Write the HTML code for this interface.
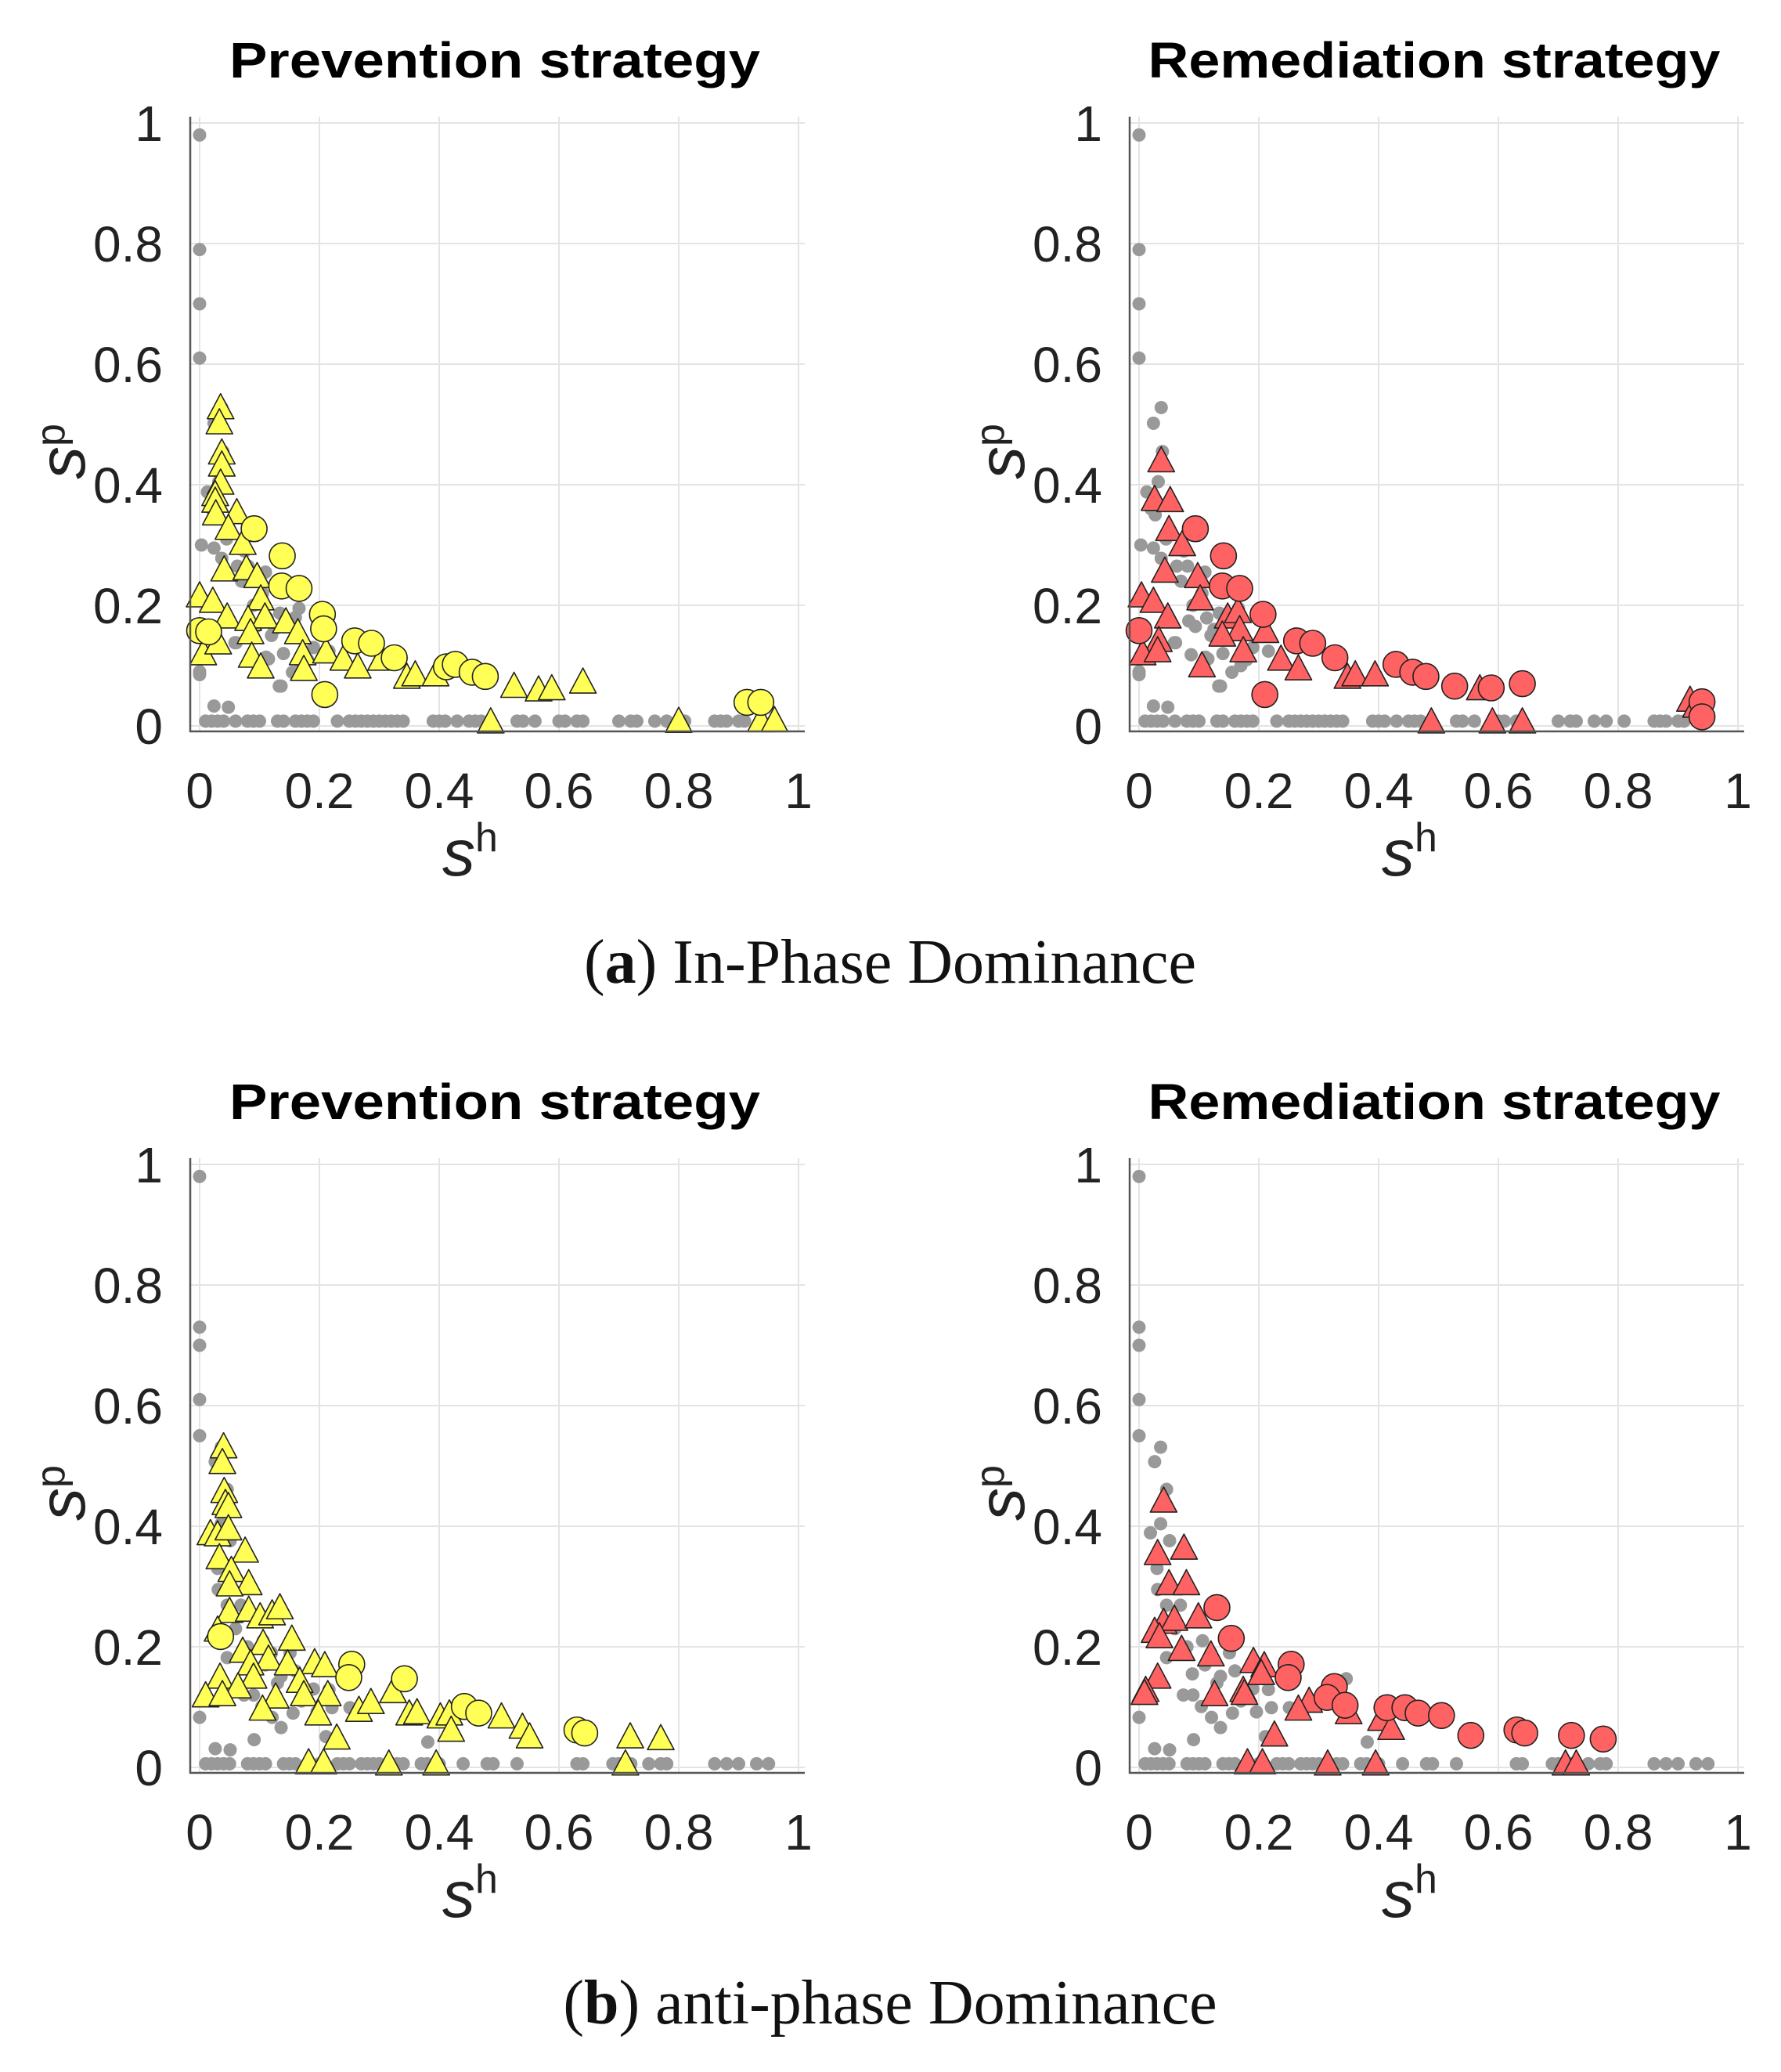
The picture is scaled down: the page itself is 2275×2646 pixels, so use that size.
<!DOCTYPE html>
<html><head><meta charset="utf-8"><style>
html,body{margin:0;padding:0;background:#fff}
svg{display:block}
</style></head><body>
<svg id="fig" xmlns="http://www.w3.org/2000/svg" width="2275" height="2646" viewBox="0 0 2275 2646">
<rect width="2275" height="2646" fill="#fff"/>
<text x="1137" y="1255" text-anchor="middle" font-family="Liberation Serif, serif" font-size="80" fill="#111">(<tspan font-weight="bold">a</tspan>) In-Phase Dominance</text>
<text x="1137" y="2584" text-anchor="middle" font-family="Liberation Serif, serif" font-size="80" fill="#111">(<tspan font-weight="bold">b</tspan>) anti-phase Dominance</text>
</svg>
<script>
// ---- data (x = s^h, y = s^p) ----
const ticks = [0, 0.2, 0.4, 0.6, 0.8, 1];
const tickLabels = ["0", "0.2", "0.4", "0.6", "0.8", "1"];
const titles = ["Prevention strategy", "Remediation strategy"];

const grayTopX = [0,0,0,0,0,0.013,0.024,0.037,0.0,0.024,0.048,0.133,0.059,0.115,0.166,0.11,0.039,0.032,0.027,0.063,0.081,0.083,0.094,0.061,0.087,0.111,0.136,0.155,0.216,0.134,0.113,0.003,
 0.037,0.024,0.02,0.045,0.07,0.09,0.12,0.14,0.17,0.19,0.075,0.105,0.125,0.16,0.18,
 0.01,0.02,0.03,0.04,0.06,0.08,0.09,0.1,0.13,0.14,0.16,0.17,0.18,0.19,0.23,0.25,0.26,0.27,0.28,0.29,0.3,0.31,0.32,0.33,0.34,0.39,0.4,0.41,0.43,0.45,0.46,0.47,0.53,0.54,0.56,0.6,0.61,0.63,0.64,0.7,0.72,0.73,0.76,0.78,0.81,0.86,0.87,0.88,0.9,0.91];
const grayTopY = [0.98,0.79,0.70,0.61,0.09,0.388,0.295,0.278,0.085,0.033,0.031,0.066,0.138,0.111,0.195,0.255,0.455,0.405,0.35,0.265,0.265,0.174,0.165,0.138,0.118,0.114,0.066,0.089,0.124,0.187,0.179,0.3,
 0.528,0.502,0.36,0.31,0.24,0.2,0.15,0.12,0.1,0.13,0.29,0.22,0.16,0.18,0.11,
 0.008,0.008,0.008,0.008,0.008,0.008,0.008,0.008,0.008,0.008,0.008,0.008,0.008,0.008,0.008,0.008,0.008,0.008,0.008,0.008,0.008,0.008,0.008,0.008,0.008,0.008,0.008,0.008,0.008,0.008,0.008,0.008,0.008,0.008,0.008,0.008,0.008,0.008,0.008,0.008,0.008,0.008,0.008,0.008,0.008,0.008,0.008,0.008,0.008,0.008];
const grayBotX = [0,0,0,0,0,0.036,0.026,0.046,0.036,0.019,0.051,0.031,0.046,0.069,0.106,0.089,0.046,0.151,0.136,0.074,0.104,0.121,0.136,0.091,0.026,0.051,0,0.216,0.221,0.156,0.196,0.211,0.381,0.346,0.251,
 0.03,0.06,0.08,0.11,0.13,0.17,0.19,0.16,0.09,0.12,
 0.01,0.02,0.03,0.04,0.05,0.08,0.09,0.1,0.11,0.14,0.15,0.16,0.2,0.23,0.24,0.25,0.27,0.28,0.29,0.3,0.33,0.34,0.37,0.38,0.4,0.44,0.48,0.49,0.53,0.63,0.64,0.69,0.7,0.72,0.75,0.77,0.78,0.86,0.88,0.9,0.93,0.95];
const grayBotY = [0.98,0.73,0.70,0.61,0.55,0.531,0.507,0.461,0.404,0.389,0.376,0.295,0.269,0.269,0.21,0.155,0.182,0.19,0.151,0.12,0.101,0.083,0.066,0.046,0.031,0.029,0.083,0.129,0.099,0.09,0.092,0.051,0.042,0.147,0.099,
 0.33,0.23,0.2,0.17,0.14,0.11,0.13,0.16,0.12,0.19,
 0.006,0.006,0.006,0.006,0.006,0.006,0.006,0.006,0.006,0.006,0.006,0.006,0.006,0.006,0.006,0.006,0.006,0.006,0.006,0.006,0.006,0.006,0.006,0.006,0.006,0.006,0.006,0.006,0.006,0.006,0.006,0.006,0.006,0.006,0.006,0.006,0.006,0.006,0.006,0.006,0.006,0.006];

// panel a-left (prevention, in-phase)
const aPrevTriX = [0.035,0.033,0.037,0.037,0.035,0.026,0.026,0.027,0.062,0.048,0.072,0.041,0.078,0.096,0.0,0.022,0.102,0.046,0.081,0.109,0.085,0.144,0.164,0.006,0.031,0.087,0.102,0.172,0.174,0.211,0.24,0.264,0.303,0.346,0.36,0.394,0.486,0.525,0.566,0.588,0.64,0.8,0.937,0.96];
const aPrevTriY = [0.525,0.50,0.45,0.43,0.40,0.381,0.37,0.349,0.351,0.325,0.30,0.256,0.258,0.245,0.213,0.204,0.208,0.178,0.174,0.178,0.152,0.17,0.152,0.117,0.135,0.113,0.095,0.117,0.091,0.12,0.108,0.095,0.108,0.078,0.082,0.082,0.004,0.063,0.057,0.059,0.07,0.005,0.006,0.006];
const aPrevCirX = [0.091,0.138,0.137,0.166,0.0,0.015,0.205,0.207,0.209,0.259,0.287,0.325,0.412,0.427,0.455,0.477,0.914,0.937];
const aPrevCirY = [0.327,0.282,0.232,0.228,0.158,0.156,0.185,0.161,0.052,0.141,0.137,0.113,0.098,0.102,0.089,0.082,0.039,0.039];
// panel a-right (remediation, in-phase)
const aRemTriX = [0.037,0.026,0.052,0.05,0.072,0.043,0.098,0.004,0.024,0.102,0.048,0.148,0.165,0.168,0.139,0.033,0.006,0.031,0.174,0.211,0.105,0.237,0.266,0.348,0.361,0.394,0.488,0.569,0.59,0.64,0.92,0.93];
const aRemTriY = [0.437,0.373,0.371,0.323,0.298,0.254,0.245,0.213,0.204,0.208,0.178,0.178,0.187,0.157,0.148,0.139,0.117,0.122,0.122,0.154,0.097,0.108,0.092,0.078,0.082,0.082,0.004,0.059,0.004,0.004,0.04,0.03];
const aRemCirX = [0.094,0.141,0.139,0.168,0.0,0.207,0.21,0.263,0.29,0.327,0.429,0.457,0.479,0.527,0.588,0.64,0.94,0.94];
const aRemCirY = [0.327,0.282,0.232,0.228,0.158,0.185,0.052,0.141,0.137,0.113,0.102,0.089,0.082,0.066,0.063,0.07,0.04,0.015];
// panel b-left (prevention, anti-phase)
const bPrevTriX = [0.040,0.038,0.041,0.043,0.048,0.018,0.03,0.048,0.033,0.076,0.053,0.082,0.05,0.05,0.082,0.101,0.121,0.134,0.03,0.154,0.072,0.106,0.115,0.085,0.09,0.034,0.064,0.01,0.038,0.147,0.192,0.209,0.167,0.174,0.214,0.127,0.105,0.198,0.229,0.266,0.286,0.323,0.35,0.363,0.402,0.417,0.42,0.504,0.539,0.551,0.719,0.77,0.711,0.182,0.207,0.316,0.395];
const bPrevTriY = [0.529,0.503,0.455,0.435,0.43,0.385,0.383,0.393,0.345,0.356,0.324,0.302,0.30,0.256,0.258,0.247,0.252,0.262,0.225,0.21,0.19,0.203,0.177,0.169,0.147,0.147,0.131,0.116,0.118,0.169,0.171,0.166,0.14,0.118,0.118,0.114,0.094,0.086,0.046,0.092,0.105,0.123,0.086,0.088,0.081,0.086,0.059,0.081,0.064,0.048,0.048,0.045,0.003,0.005,0.005,0.003,0.003];
const bPrevCirX = [0.035,0.254,0.249,0.342,0.442,0.466,0.63,0.643];
const bPrevCirY = [0.217,0.171,0.149,0.147,0.101,0.09,0.062,0.057];
// panel b-right (remediation, anti-phase)
const bRemTriX = [0.041,0.031,0.075,0.05,0.079,0.041,0.059,0.099,0.026,0.034,0.071,0.12,0.191,0.209,0.204,0.031,0.011,0.009,0.126,0.174,0.176,0.284,0.266,0.35,0.404,0.421,0.226,0.181,0.206,0.315,0.395,0.712,0.73];
const bRemTriY = [0.439,0.352,0.361,0.302,0.302,0.238,0.243,0.247,0.223,0.214,0.193,0.184,0.173,0.166,0.153,0.147,0.125,0.12,0.118,0.125,0.12,0.107,0.094,0.088,0.077,0.062,0.051,0.005,0.005,0.003,0.003,0.003,0.003];
const bRemCirX = [0.13,0.154,0.254,0.249,0.326,0.314,0.344,0.414,0.444,0.466,0.505,0.554,0.631,0.644,0.722,0.775];
const bRemCirY = [0.265,0.214,0.171,0.149,0.134,0.116,0.103,0.099,0.099,0.09,0.086,0.053,0.062,0.057,0.053,0.047];

const NS = "http://www.w3.org/2000/svg";
const svg = document.getElementById('fig');
const YELLOW = "#ffff55", RED = "#ff6262";

const panels = [
  {x0:255, y0:927, title:titles[0], titleLen:678, grayX:grayTopX, grayY:grayTopY, triX:aPrevTriX, triY:aPrevTriY, cirX:aPrevCirX, cirY:aPrevCirY, color:YELLOW, id:"a-prevention"},
  {x0:1455, y0:927, title:titles[1], titleLen:731, grayX:grayTopX, grayY:grayTopY, triX:aRemTriX, triY:aRemTriY, cirX:aRemCirX, cirY:aRemCirY, color:RED, id:"a-remediation"},
  {x0:255, y0:2257, title:titles[0], titleLen:678, grayX:grayBotX, grayY:grayBotY, triX:bPrevTriX, triY:bPrevTriY, cirX:bPrevCirX, cirY:bPrevCirY, color:YELLOW, id:"b-prevention"},
  {x0:1455, y0:2257, title:titles[1], titleLen:731, grayX:grayBotX, grayY:grayBotY, triX:bRemTriX, triY:bRemTriY, cirX:bRemCirX, cirY:bRemCirY, color:RED, id:"b-remediation"}
];

function mk(tag, attrs, parent){
  const e = document.createElementNS(NS, tag);
  for (const k in attrs) e.setAttribute(k, attrs[k]);
  parent.appendChild(e);
  return e;
}

panels.forEach(p => {
  const W = 765, H = 770;
  const sx = v => p.x0 + v * W;
  const sy = v => p.y0 - v * H;
  const g = mk('g', {}, svg);
  
  

  ticks.forEach((t, i) => {
    const gx = mk('line', {x1:sx(t), x2:sx(t), y1:sy(1)-8, y2:p.y0+7, stroke:'#e4e4e4', 'stroke-width':2}, g);
    
    
    const gy = mk('line', {x1:p.x0-12, x2:sx(1)+8, y1:sy(t), y2:sy(t), stroke:'#e4e4e4', 'stroke-width':2}, g);
    
    
  });

  p.grayX.forEach((v, i) => {
    const c = mk('circle', {cx:sx(v), cy:sy(p.grayY[i]), r:8.5, fill:'#999'}, g);
    
    
  });

  p.triX.forEach((v, i) => {
    const cx = sx(v), cy = sy(p.triY[i]);
    const pts = `${cx},${cy-20} ${cx+17},${cy+12} ${cx-17},${cy+12}`;
    const t = mk('polygon', {points:pts, fill:p.color, stroke:'#222', 'stroke-width':1.6, 'stroke-linejoin':'round'}, g);
    
    
  });
  p.cirX.forEach((v, i) => {
    const c = mk('circle', {cx:sx(v), cy:sy(p.cirY[i]), r:16.5, fill:p.color, stroke:'#222', 'stroke-width':1.6}, g);
    
    
  });

  const ax = mk('path', {d:`M${p.x0-12},${sy(1)-8} L${p.x0-12},${p.y0+7} L${sx(1)+8},${p.y0+7}`, fill:'none', stroke:'#555', 'stroke-width':2.5}, g);
  
  

  ticks.forEach((t, i) => {
    const xl = mk('text', {x:sx(t), y:p.y0+105, 'text-anchor':'middle', 'font-family':'Liberation Sans, sans-serif', 'font-size':64, fill:'#222'}, g);
    xl.textContent = tickLabels[i];
    
    
    const yl = mk('text', {x:p.x0-47, y:sy(t)+23, 'text-anchor':'end', 'font-family':'Liberation Sans, sans-serif', 'font-size':64, fill:'#222'}, g);
    yl.textContent = tickLabels[i];
    
    
  });

  const ti = mk('text', {x:p.x0+377, y:p.y0-828, 'text-anchor':'middle', 'font-family':'Liberation Sans, sans-serif', 'font-weight':'bold', 'font-size':64, fill:'#000', textLength:p.titleLen, lengthAdjust:'spacingAndGlyphs'}, g);
  ti.textContent = p.title;
  
  

  const xlab = mk('text', {x:p.x0+310, y:p.y0+191, 'font-family':'Liberation Sans, sans-serif', 'font-size':84, 'font-style':'italic', fill:'#222'}, g);
  xlab.innerHTML = 's<tspan dy="-31" font-size="52" font-style="normal">h</tspan>';
  
  

  const ylab = mk('text', {transform:`translate(${p.x0-147},${p.y0-315}) rotate(-90)`, 'font-family':'Liberation Sans, sans-serif', 'font-size':84, 'font-style':'italic', fill:'#222'}, g);
  ylab.innerHTML = 's<tspan dy="-26" font-size="52" font-style="normal">p</tspan>';
  
  
});
</script>
</body></html>
